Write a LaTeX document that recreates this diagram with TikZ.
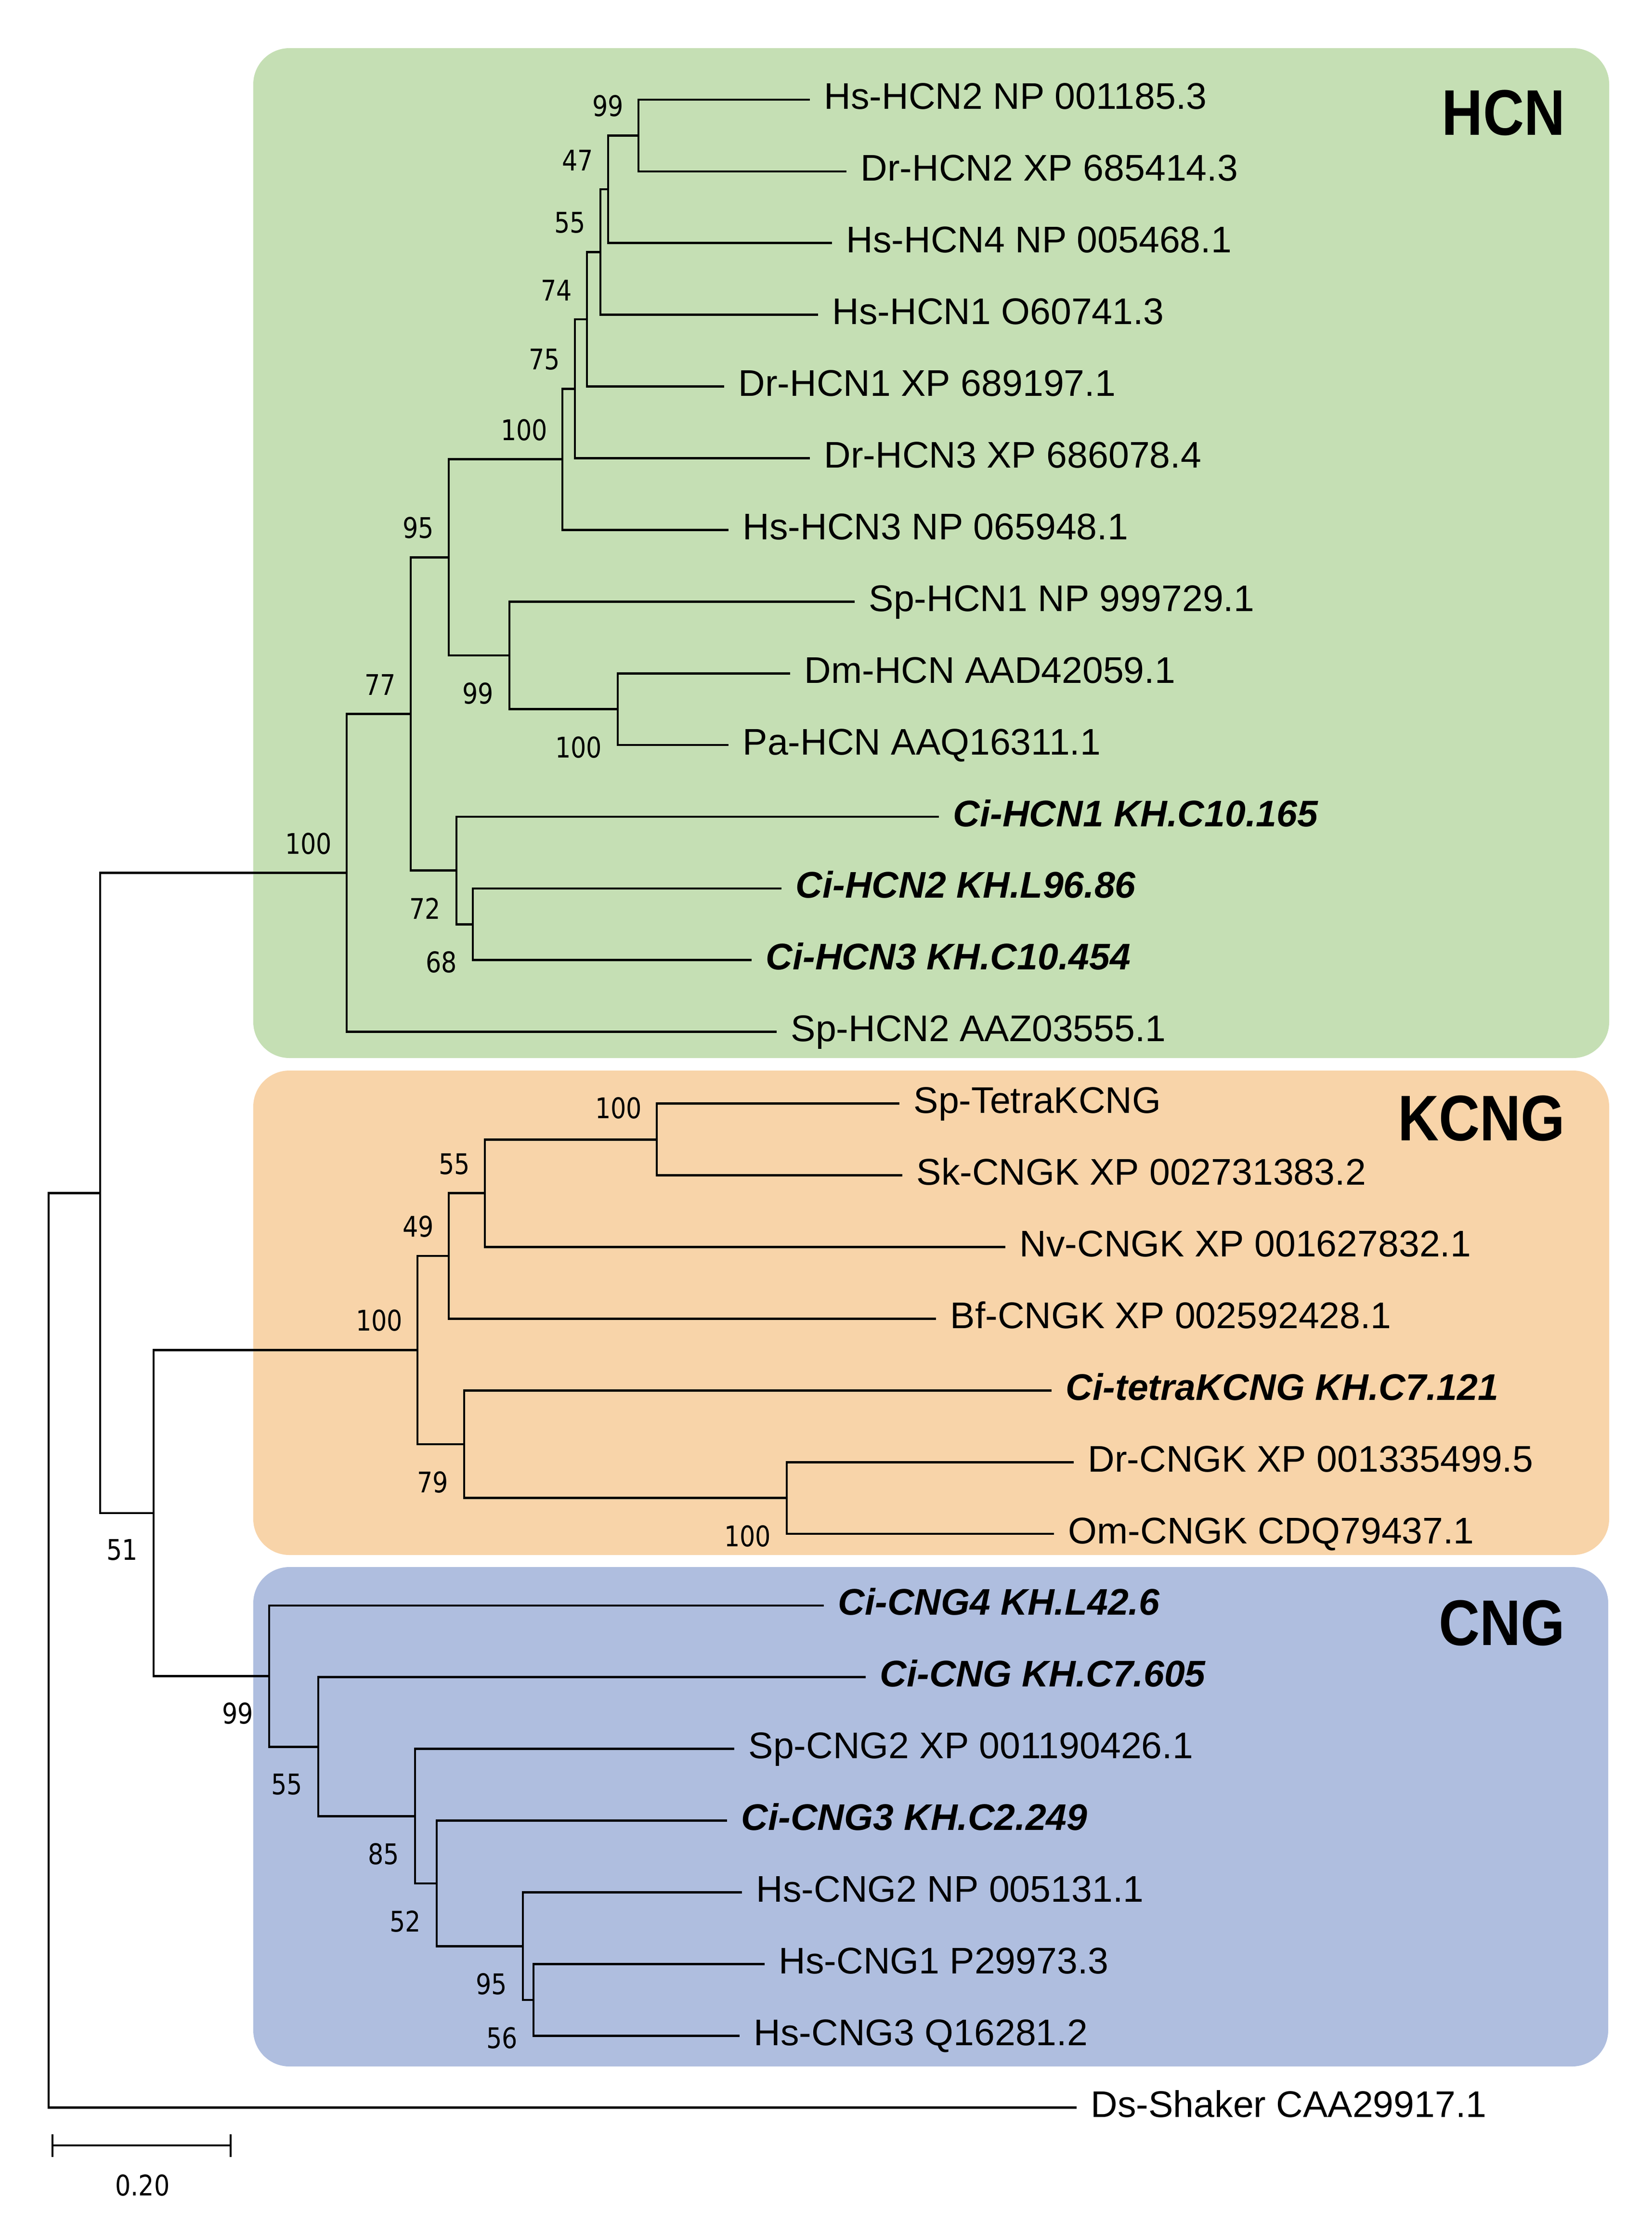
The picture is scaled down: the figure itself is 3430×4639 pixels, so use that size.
\documentclass[tikz,border=0pt]{standalone}
\usepackage{fontspec}
\setmainfont{Liberation Sans}
\newfontfamily\bsfam[FakeStretch=0.86]{DejaVu Sans}
\newfontfamily\grpfam[FakeStretch=0.88]{Liberation Sans}
\usetikzlibrary{calc}
\definecolor{grnbox}{HTML}{C5DFB4}
\definecolor{orgbox}{HTML}{F8D4A9}
\definecolor{blubox}{HTML}{AFBEDF}
\newcommand{\lfnt}{\fontsize{21.9}{26}\selectfont}
\newcommand{\bsfnt}{\bsfam\fontsize{16.8}{19}\selectfont}
\newcommand{\grpfnt}{\grpfam\bfseries\fontsize{38.1}{42}\selectfont}
\newcommand{\lf}[5]{\coordinate (#1) at (#2,#3); \node[#5] (#1t) at ($(#1)+(29,20)$) {#4};}
\begin{document}
\begin{tikzpicture}[x=0.01cm,y=-0.01cm,
  br/.style={line width=1.35pt, line join=miter, draw=black},
  leaflab/.style={anchor=base west, inner sep=0pt, font=\lfnt},
  cilab/.style={anchor=base west, inner sep=0pt, font=\lfnt\bfseries\itshape},
  bsup/.style={anchor=south east, inner sep=0pt, font=\bsfnt},
  bsdn/.style={anchor=north east, inner sep=0pt, font=\bsfnt},
  grp/.style={anchor=base east, inner sep=0pt, font=\grpfnt},
  box/.style={rounded corners=0.75cm, draw=none}]
\useasboundingbox (0,0) rectangle (3430,4639);
\fill[white] (0,0) rectangle (3430,4639);
% clade boxes
\fill[box, fill=grnbox] (526,100) rectangle (3342,2197);
\fill[box, fill=orgbox] (526,2223) rectangle (3342,3229);
\fill[box, fill=blubox] (526,3254) rectangle (3340,4291);
\node[grp] (hcn) at (3251,281) {HCN};
\node[grp] (kcng) at (3251,2368) {KCNG};
\node[grp] (cng) at (3251,3416) {CNG};
% leaves
\lf{l0}{1682}{207}{Hs-HCN2 NP 001185.3}{leaflab}
\lf{l1}{1758}{355.9}{Dr-HCN2 XP 685414.3}{leaflab}
\lf{l2}{1728}{504.8}{Hs-HCN4 NP 005468.1}{leaflab}
\lf{l3}{1699}{653.7}{Hs-HCN1 O60741.3}{leaflab}
\lf{l4}{1504}{802.6}{Dr-HCN1 XP 689197.1}{leaflab}
\lf{l5}{1682}{951.5}{Dr-HCN3 XP 686078.4}{leaflab}
\lf{l6}{1513}{1100.4}{Hs-HCN3 NP 065948.1}{leaflab}
\lf{l7}{1775}{1249.3}{Sp-HCN1 NP 999729.1}{leaflab}
\lf{l8}{1641}{1398.2}{Dm-HCN AAD42059.1}{leaflab}
\lf{l9}{1513}{1547.1}{Pa-HCN AAQ16311.1}{leaflab}
\lf{l10}{1950}{1696}{Ci-HCN1 KH.C10.165}{cilab}
\lf{l11}{1623}{1844.9}{Ci-HCN2 KH.L96.86}{cilab}
\lf{l12}{1561}{1993.8}{Ci-HCN3 KH.C10.454}{cilab}
\lf{l13}{1613}{2142.7}{Sp-HCN2 AAZ03555.1}{leaflab}
\lf{l14}{1868}{2291.6}{Sp-TetraKCNG}{leaflab}
\lf{l15}{1874}{2440.5}{Sk-CNGK XP 002731383.2}{leaflab}
\lf{l16}{2088}{2589.4}{Nv-CNGK XP 001627832.1}{leaflab}
\lf{l17}{1944}{2738.3}{Bf-CNGK XP 002592428.1}{leaflab}
\lf{l18}{2184}{2887.2}{Ci-tetraKCNG KH.C7.121}{cilab}
\lf{l19}{2230}{3036.1}{Dr-CNGK XP 001335499.5}{leaflab}
\lf{l20}{2189}{3185}{Om-CNGK CDQ79437.1}{leaflab}
\lf{l21}{1711}{3333.9}{Ci-CNG4 KH.L42.6}{cilab}
\lf{l22}{1798}{3482.8}{Ci-CNG KH.C7.605}{cilab}
\lf{l23}{1525}{3631.7}{Sp-CNG2 XP 001190426.1}{leaflab}
\lf{l24}{1510}{3780.6}{Ci-CNG3 KH.C2.249}{cilab}
\lf{l25}{1541}{3929.5}{Hs-CNG2 NP 005131.1}{leaflab}
\lf{l26}{1588}{4078.4}{Hs-CNG1 P29973.3}{leaflab}
\lf{l27}{1536}{4227.3}{Hs-CNG3 Q16281.2}{leaflab}
\lf{l28}{2236}{4376.2}{Ds-Shaker CAA29917.1}{leaflab}
% internal nodes
\coordinate (root) at (101,3426.6);
\coordinate (r1) at (208,2477.3);
\coordinate (n100h) at (720,1812.6);
\coordinate (n77) at (853,1482.5);
\coordinate (n95) at (932,1157.4);
\coordinate (n100a) at (1168,953.8);
\coordinate (n75) at (1194,807.3);
\coordinate (n74) at (1219,663.0);
\coordinate (n55) at (1247,523.4);
\coordinate (n47) at (1263,393.1);
\coordinate (n99) at (1326,281.5);
\coordinate (n99b) at (1058,1361.0);
\coordinate (n100b) at (1283,1472.7);
\coordinate (n72) at (948,1807.7);
\coordinate (n68) at (982,1919.4);
\coordinate (c51) at (319,3142.0);
\coordinate (k100) at (867,2803.4);
\coordinate (k49) at (932,2608.0);
\coordinate (k55) at (1007,2477.7);
\coordinate (k100a) at (1364,2366.1);
\coordinate (k79) at (964,2998.9);
\coordinate (k100c) at (1634,3110.6);
\coordinate (c99) at (559,3480.5);
\coordinate (c55) at (661,3627.1);
\coordinate (c85) at (862,3771.3);
\coordinate (c52) at (907,3910.9);
\coordinate (c95) at (1086,4041.2);
\coordinate (c56) at (1108,4152.9);
% branches
\draw[br] (root) |- (r1);   \draw[br] (root) |- (l28);
\draw[br] (r1) |- (n100h);  \draw[br] (r1) |- (c51);
\draw[br] (n100h) |- (n77); \draw[br] (n100h) |- (l13);
\draw[br] (n77) |- (n95);   \draw[br] (n77) |- (n72);
\draw[br] (n95) |- (n100a); \draw[br] (n95) |- (n99b);
\draw[br] (n100a) |- (n75); \draw[br] (n100a) |- (l6);
\draw[br] (n75) |- (n74);   \draw[br] (n75) |- (l5);
\draw[br] (n74) |- (n55);   \draw[br] (n74) |- (l4);
\draw[br] (n55) |- (n47);   \draw[br] (n55) |- (l3);
\draw[br] (n47) |- (n99);   \draw[br] (n47) |- (l2);
\draw[br] (n99) |- (l0);    \draw[br] (n99) |- (l1);
\draw[br] (n99b) |- (l7);   \draw[br] (n99b) |- (n100b);
\draw[br] (n100b) |- (l8);  \draw[br] (n100b) |- (l9);
\draw[br] (n72) |- (l10);   \draw[br] (n72) |- (n68);
\draw[br] (n68) |- (l11);   \draw[br] (n68) |- (l12);
\draw[br] (c51) |- (k100);  \draw[br] (c51) |- (c99);
\draw[br] (k100) |- (k49);  \draw[br] (k100) |- (k79);
\draw[br] (k49) |- (k55);   \draw[br] (k49) |- (l17);
\draw[br] (k55) |- (k100a); \draw[br] (k55) |- (l16);
\draw[br] (k100a) |- (l14); \draw[br] (k100a) |- (l15);
\draw[br] (k79) |- (l18);   \draw[br] (k79) |- (k100c);
\draw[br] (k100c) |- (l19); \draw[br] (k100c) |- (l20);
\draw[br] (c99) |- (l21);   \draw[br] (c99) |- (c55);
\draw[br] (c55) |- (l22);   \draw[br] (c55) |- (c85);
\draw[br] (c85) |- (l23);   \draw[br] (c85) |- (c52);
\draw[br] (c52) |- (l24);   \draw[br] (c52) |- (c95);
\draw[br] (c95) |- (l25);   \draw[br] (c95) |- (c56);
\draw[br] (c56) |- (l26);   \draw[br] (c56) |- (l27);
% bootstrap values
\node[bsup] (b1) at ($(n99)+(-30,-38)$) {99};
\node[bsup] (b2) at ($(n47)+(-30,-38)$) {47};
\node[bsup] (b3) at ($(n55)+(-30,-38)$) {55};
\node[bsup] (b4) at ($(n74)+(-30,-38)$) {74};
\node[bsup] (b5) at ($(n75)+(-30,-38)$) {75};
\node[bsup] (b6) at ($(n100a)+(-30,-38)$) {100};
\node[bsup] (b7) at ($(n95)+(-30,-38)$) {95};
\node[bsup] (b8) at ($(n77)+(-30,-38)$) {77};
\node[bsup] (b9) at ($(n100h)+(-30,-38)$) {100};
\node[bsup] (b10) at ($(k100a)+(-30,-42)$) {100};
\node[bsup] (b11) at ($(k55)+(-30,-38)$) {55};
\node[bsup] (b12) at ($(k49)+(-30,-38)$) {49};
\node[bsup] (b13) at ($(k100)+(-30,-38)$) {100};
\node[bsdn] (b14) at ($(n99b)+(-32,56)$) {99};
\node[bsdn] (b15) at ($(n100b)+(-32,56)$) {100};
\node[bsdn] (b16) at ($(n72)+(-32,56)$) {72};
\node[bsdn] (b17) at ($(n68)+(-32,56)$) {68};
\node[bsdn] (b18) at ($(k79)+(-32,56)$) {79};
\node[bsdn] (b19) at ($(k100c)+(-32,56)$) {100};
\node[bsdn] (b20) at ($(c51)+(-32,54)$) {51};
\node[bsdn] (b21) at ($(c99)+(-32,54)$) {99};
\node[bsdn] (b22) at ($(c55)+(-32,56)$) {55};
\node[bsdn] (b23) at ($(c85)+(-32,56)$) {85};
\node[bsdn] (b24) at ($(c52)+(-32,56)$) {52};
\node[bsdn] (b25) at ($(c95)+(-32,56)$) {95};
\node[bsdn] (b26) at ($(c56)+(-32,56)$) {56};
% scale bar
\coordinate (sb1) at (109,4455);
\coordinate (sb2) at (479,4455);
\draw[br] (sb1) -- (sb2);
\draw[br] ($(sb1)+(0,-23)$) -- ($(sb1)+(0,24)$);
\draw[br] ($(sb2)+(0,-23)$) -- ($(sb2)+(0,24)$);
\node[inner sep=0pt, font=\bsfnt] (sbl) at (296,4538) {0.20};
\end{tikzpicture}
\end{document}
